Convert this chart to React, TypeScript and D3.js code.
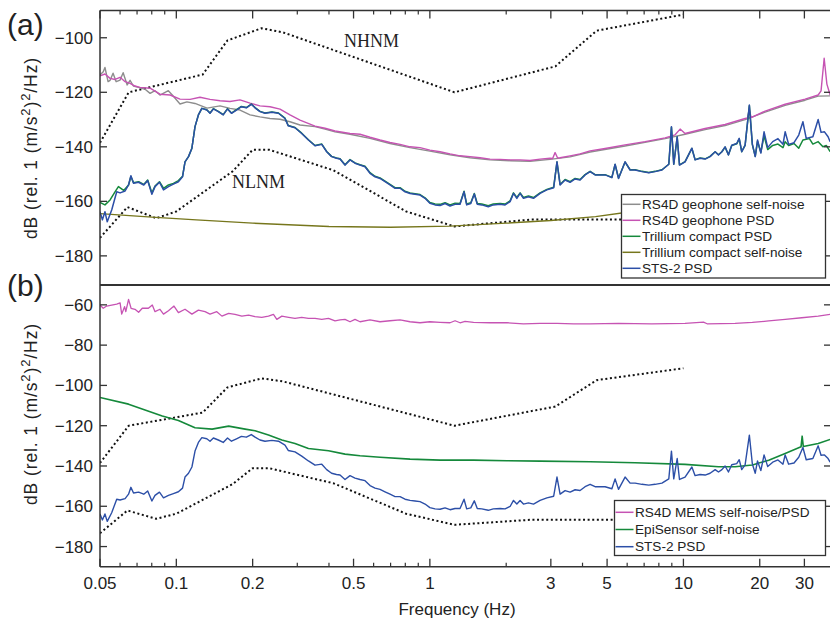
import React, { useRef, useEffect } from "react";
import * as d3 from "d3";

type Pt = [number, number];

// Peterson noise models (frequency Hz, dB)
const nhnm: Pt[] = [
  [0.05, -138.5], [0.0649, -120.0], [0.127, -113.5], [0.159, -101.0], [0.217, -96.5],
  [0.263, -98.0], [1.25, -120.0], [3.125, -110.5], [4.545, -97.4], [10, -91.5],
];
const nlnm: Pt[] = [
  [0.05, -173.4], [0.0641, -162.1], [0.0833, -166.2], [0.1, -163.7], [0.1667, -149.0],
  [0.2, -141.1], [0.2326, -141.1], [0.417, -148.6], [0.806, -163.7], [1.25, -169.2],
  [2.5, -166.7], [5.88, -166.7], [10, -168.0],
];

// panel (a)
const trilliumNoise: Pt[] = [
  [0.05, -164.5], [0.08, -165.8], [0.12, -166.8], [0.2, -168.0], [0.4, -169.2], [0.7, -169.5],
  [1.2, -169.1], [2.0, -168.0], [3.0, -167.0], [4.5, -165.6], [6.0, -164.0], [10, -161.5],
];
const geoNoise: Pt[] = [
  [0.05, -113.7], [0.0515, -112.5], [0.0523, -110.9], [0.0538, -116.1], [0.0548, -115.6],
  [0.0563, -113.0], [0.0579, -116.1], [0.06, -115.5], [0.0617, -112.8], [0.064, -117.3],
  [0.0657, -115.6], [0.0677, -117.7], [0.0709, -118.2], [0.0753, -118.9], [0.0788, -120.4],
  [0.0824, -119.4], [0.0862, -121.0], [0.093, -119.4], [0.0964, -121.0], [0.1034, -124.3],
  [0.1101, -123.5], [0.1185, -124.1], [0.1322, -125.8], [0.1487, -125.0], [0.1628, -125.9],
  [0.1783, -126.5], [0.1953, -128.3], [0.2138, -129.0], [0.2342, -129.6], [0.2564, -129.9],
  [0.2808, -130.8], [0.3075, -132.0], [0.3524, -132.6], [0.3859, -133.5], [0.4226, -134.5],
  [0.4842, -135.4], [0.5807, -136.9], [0.6964, -138.8], [0.8351, -140.3], [1.0, -141.6],
  [1.201, -142.9], [1.44, -144.0], [1.727, -144.8], [2.072, -145.1], [2.484, -145.3],
  [2.979, -144.6], [3.573, -143.7], [4.285, -141.9], [5.888, -139.7], [8.468, -137.0],
  [10.15, -135.4], [12.18, -133.7], [14.6, -132.2], [17.51, -130.0], [21.0, -127.3],
  [25.19, -124.8], [30.2, -122.9], [34.0, -121.4], [37.9, -121.3],
];
const geoPsd: Pt[] = [
  [0.05, -114.0], [0.0523, -113.3], [0.0548, -114.9], [0.0573, -115.3], [0.06, -114.5],
  [0.0628, -116.1], [0.0657, -116.7], [0.0687, -117.7], [0.0719, -118.2], [0.0788, -118.5],
  [0.0862, -120.7], [0.0945, -121.0], [0.1034, -122.5], [0.1133, -122.6], [0.124, -121.8],
  [0.1358, -122.6], [0.1487, -123.1], [0.1628, -123.4], [0.1783, -122.8], [0.1953, -124.0],
  [0.2138, -125.0], [0.2342, -125.3], [0.2564, -126.2], [0.2808, -128.3], [0.3075, -130.2],
  [0.3524, -132.4], [0.3859, -133.2], [0.4226, -134.2], [0.4842, -135.1], [0.5303, -135.4],
  [0.5807, -136.5], [0.6359, -137.5], [0.6964, -138.4], [0.7626, -139.1], [0.8351, -140.0],
  [0.9146, -140.3], [1.0, -141.2], [1.097, -141.8], [1.201, -142.6], [1.315, -143.3],
  [1.44, -143.6], [1.577, -144.0], [1.727, -144.5], [1.892, -144.6], [2.072, -144.8],
  [2.269, -144.8], [2.484, -145.0], [2.721, -144.5], [2.979, -144.2], [3.05, -144.3],
  [3.118, -142.1], [3.19, -144.1], [3.263, -144.0], [3.573, -143.3], [3.912, -142.6],
  [4.285, -141.5], [4.91, -140.6], [5.888, -139.3], [7.061, -138.1], [8.468, -136.7],
  [9.273, -135.6], [9.704, -133.5], [10.15, -135.1], [12.18, -133.3], [14.6, -131.8],
  [17.51, -129.6], [17.9, -129.4], [18.2, -126.5], [18.5, -129.3], [21.0, -126.9],
  [25.19, -124.4], [30.2, -122.5], [34.0, -121.0], [34.9, -119.5], [35.9, -107.5],
  [36.8, -117.0], [37.9, -121.0],
];
const sts2Psd: Pt[] = [
  [0.05, -163.8], [0.0511, -166.8], [0.0523, -163.8], [0.0534, -167.5], [0.0556, -163.2],
  [0.0582, -156.5], [0.06, -156.9], [0.0628, -156.2], [0.0648, -154.0], [0.0662, -150.6],
  [0.0678, -153.4], [0.071, -153.0], [0.0744, -154.0], [0.0771, -152.4], [0.0801, -157.4],
  [0.0824, -154.6], [0.0858, -153.0], [0.089, -155.8], [0.0931, -154.6], [0.0974, -153.7],
  [0.1019, -152.8], [0.1058, -151.0], [0.1082, -145.5], [0.1117, -143.6], [0.1152, -140.5],
  [0.1185, -132.6], [0.1222, -128.3], [0.1261, -125.9], [0.1319, -126.5], [0.1358, -127.7],
  [0.14, -126.1], [0.1464, -127.1], [0.1531, -128.3], [0.1592, -126.1], [0.165, -127.7],
  [0.1727, -126.5], [0.1806, -125.3], [0.1889, -125.7], [0.1976, -124.4], [0.2044, -125.7],
  [0.2138, -127.1], [0.2238, -127.7], [0.2382, -127.3], [0.2529, -127.7], [0.2683, -129.6],
  [0.2763, -132.3], [0.2938, -133.0], [0.3123, -135.1], [0.3319, -137.5], [0.3524, -139.6],
  [0.3747, -139.1], [0.3917, -141.8], [0.4097, -143.6], [0.4283, -144.2], [0.4422, -144.5],
  [0.4627, -146.7], [0.4842, -144.8], [0.5067, -146.0], [0.5303, -146.7], [0.5549, -147.3],
  [0.5807, -149.7], [0.6077, -151.0], [0.6359, -151.6], [0.6655, -152.8], [0.6964, -154.0],
  [0.7288, -155.2], [0.7626, -155.2], [0.798, -156.5], [0.8351, -157.1], [0.874, -157.4],
  [0.9146, -157.7], [0.9571, -158.9], [1.0, -160.7], [1.048, -161.3], [1.097, -161.5],
  [1.148, -160.8], [1.201, -161.7], [1.257, -161.1], [1.315, -161.1], [1.364, -156.5],
  [1.397, -161.3], [1.45, -160.8], [1.497, -157.3], [1.538, -161.1], [1.602, -161.3],
  [1.7, -162.0], [1.779, -161.3], [1.892, -161.1], [1.98, -161.3], [2.072, -160.1],
  [2.137, -157.1], [2.203, -158.9], [2.269, -157.1], [2.339, -158.9], [2.448, -158.3],
  [2.563, -158.9], [2.721, -157.1], [2.894, -155.8], [3.078, -155.0], [3.172, -145.5],
  [3.263, -154.0], [3.414, -152.2], [3.573, -153.0], [3.739, -151.8], [3.912, -152.2],
  [4.094, -150.3], [4.285, -149.1], [4.484, -150.3], [4.91, -150.3], [5.222, -151.3],
  [5.377, -146.4], [5.546, -151.6], [5.888, -145.5], [6.162, -148.5], [6.448, -148.5],
  [6.861, -149.1], [7.302, -149.5], [7.732, -149.1], [8.228, -148.5], [8.757, -146.4],
  [8.97, -132.6], [9.16, -146.4], [9.45, -136.3], [9.65, -146.7], [10.15, -145.5],
  [10.8, -140.5], [11.12, -144.8], [11.64, -144.2], [12.18, -144.5], [12.74, -143.6],
  [13.34, -141.8], [13.75, -143.0], [14.18, -141.8], [14.6, -140.0], [15.05, -143.0],
  [15.51, -139.4], [16.23, -138.8], [16.6, -136.9], [16.98, -141.8], [17.51, -139.4],
  [18.2, -124.7], [18.7, -139.0], [19.2, -143.6], [19.6, -137.5], [20.2, -142.3],
  [20.8, -134.5], [21.5, -140.3], [22.5, -138.1], [23.6, -137.0], [24.7, -139.1],
  [25.19, -134.5], [26.0, -139.1], [27.3, -138.5], [28.5, -135.7], [29.6, -130.8],
  [30.5, -136.9], [32.4, -136.3], [34.0, -130.0], [34.9, -134.7], [36.0, -134.5],
  [37.2, -136.3], [37.9, -138.1],
];
const trilliumPsd: Pt[] = [
  [0.05, -160.4], [0.0523, -161.3], [0.0548, -159.5], [0.0573, -156.5], [0.0591, -154.6],
  [0.062, -156.0], [0.0648, -154.0], [0.0662, -150.9], [0.0678, -153.2], [0.071, -152.8],
  [0.0744, -153.8], [0.0771, -152.2], [0.0801, -156.9], [0.0824, -154.4], [0.0858, -152.8],
  [0.089, -155.2], [0.0931, -154.0], [0.0974, -153.4], [0.1019, -152.4], [0.1058, -150.8],
  [0.1082, -145.5], [0.1117, -143.6], [0.1152, -140.5], [0.1185, -132.6], [0.1222, -128.3],
  [0.1261, -125.9], [0.1319, -126.4], [0.1358, -127.6], [0.14, -126.0], [0.1464, -127.0],
  [0.1531, -128.2], [0.1592, -126.0], [0.165, -127.6], [0.1727, -126.4], [0.1806, -125.2],
  [0.1889, -125.6], [0.1976, -124.3], [0.2044, -125.6], [0.2138, -127.0], [0.2238, -127.6],
  [0.2382, -127.2], [0.2529, -127.6], [0.2683, -129.5], [0.2763, -132.2], [0.2938, -132.9],
  [0.3123, -135.0], [0.3319, -137.4], [0.3524, -139.5], [0.3747, -139.0], [0.3917, -141.7],
  [0.4097, -143.5], [0.4283, -144.1], [0.4422, -144.4], [0.4627, -146.6], [0.4842, -144.7],
  [0.5067, -145.9], [0.5303, -146.6], [0.5549, -147.1], [0.5807, -149.5], [0.6077, -150.8],
  [0.6359, -151.4], [0.6655, -152.6], [0.6964, -153.8], [0.7288, -155.0], [0.7626, -155.0],
  [0.798, -156.3], [0.8351, -156.9], [0.874, -157.2], [0.9146, -157.5], [0.9571, -158.7],
  [1.0, -160.4], [1.048, -161.0], [1.097, -161.1], [1.148, -160.5], [1.201, -161.3],
  [1.257, -160.7], [1.315, -160.8], [1.364, -156.3], [1.397, -161.0], [1.45, -160.5],
  [1.497, -157.1], [1.538, -160.8], [1.602, -161.0], [1.7, -161.6], [1.779, -161.0],
  [1.892, -160.8], [1.98, -161.0], [2.072, -159.8], [2.137, -156.9], [2.203, -158.6],
  [2.269, -156.9], [2.339, -158.6], [2.448, -158.0], [2.563, -158.6], [2.721, -156.9],
  [2.894, -155.6], [3.078, -154.8], [3.172, -145.6], [3.263, -153.8], [3.414, -152.0],
  [3.573, -152.8], [3.739, -151.6], [3.912, -152.0], [4.094, -150.2], [4.285, -149.0],
  [4.484, -150.2], [4.91, -150.2], [5.222, -151.2], [5.377, -146.5], [5.546, -151.5],
  [5.888, -145.6], [6.162, -148.4], [6.448, -148.4], [6.861, -149.0], [7.302, -149.4],
  [7.732, -149.0], [8.228, -148.4], [8.757, -146.4], [8.97, -132.8], [9.16, -146.4],
  [9.45, -136.5], [9.65, -146.6], [10.15, -145.4], [10.8, -140.6], [11.12, -144.7],
  [11.64, -144.1], [12.18, -144.4], [12.74, -143.5], [13.34, -141.8], [13.75, -142.9],
  [14.18, -141.8], [14.6, -140.1], [15.05, -142.9], [15.51, -139.5], [16.23, -138.9],
  [16.6, -137.1], [16.98, -141.8], [17.51, -139.5], [18.2, -124.9], [18.7, -139.2],
  [19.2, -143.5], [19.6, -138.0], [20.2, -142.0], [20.8, -136.0], [21.5, -141.0],
  [22.5, -139.5], [23.6, -139.0], [24.7, -140.3], [25.19, -138.1], [26.0, -139.5],
  [27.3, -138.8], [28.5, -140.5], [29.6, -137.5], [31.4, -137.0], [32.4, -139.0],
  [34.0, -138.1], [35.5, -140.0], [36.6, -139.5], [37.9, -141.8],
];

// panel (b)
const memsPsd: Pt[] = [
  [0.05, -60.1], [0.0515, -61.7], [0.0531, -60.6], [0.0556, -60.1], [0.0582, -59.6],
  [0.06, -59.0], [0.0609, -64.6], [0.0625, -60.9], [0.0632, -63.4], [0.0648, -57.3],
  [0.0663, -61.7], [0.0687, -62.2], [0.071, -63.7], [0.0734, -61.7], [0.0776, -61.7],
  [0.0804, -60.1], [0.0824, -63.4], [0.0862, -62.2], [0.089, -64.6], [0.0931, -62.9],
  [0.0979, -60.6], [0.1019, -63.9], [0.1082, -62.2], [0.1152, -64.6], [0.1222, -62.6],
  [0.1298, -63.4], [0.1358, -64.6], [0.1444, -63.4], [0.1513, -65.6], [0.1608, -64.2],
  [0.1704, -64.7], [0.1813, -65.6], [0.1928, -65.1], [0.2044, -65.9], [0.2173, -66.2],
  [0.2309, -65.6], [0.2416, -64.7], [0.2491, -67.2], [0.2607, -65.6], [0.2772, -66.2],
  [0.2938, -66.7], [0.3123, -66.2], [0.3319, -66.7], [0.3524, -66.7], [0.3747, -67.2],
  [0.3983, -66.7], [0.4226, -68.0], [0.4422, -67.5], [0.4627, -67.2], [0.4842, -68.4],
  [0.5067, -67.2], [0.5303, -68.4], [0.5807, -67.5], [0.6359, -68.4], [0.6964, -67.9],
  [0.7626, -67.5], [0.8351, -68.4], [0.9146, -68.9], [1.0, -68.4], [1.097, -68.7],
  [1.201, -68.9], [1.257, -67.9], [1.315, -68.9], [1.376, -68.2], [1.487, -68.7],
  [1.727, -68.9], [2.014, -68.9], [2.339, -69.4], [2.721, -69.2], [3.172, -69.2],
  [3.694, -69.4], [4.285, -69.4], [5.546, -69.2], [7.5, -69.4], [10.15, -69.2],
  [12.0, -68.6], [12.4, -69.4], [15.99, -69.2], [18.7, -68.7], [21.7, -68.0],
  [25.19, -67.2], [29.3, -66.4], [34.0, -65.6], [37.9, -64.7],
];
const episensorNoise: Pt[] = [
  [0.05, -106.0], [0.0648, -109.3], [0.088, -115.2], [0.1019, -117.4], [0.1185, -121.0],
  [0.1384, -121.7], [0.1608, -120.2], [0.1868, -121.7], [0.2044, -122.5], [0.2309, -124.6],
  [0.2607, -127.1], [0.2938, -128.8], [0.3319, -131.3], [0.3983, -132.4], [0.4627, -134.1],
  [0.5303, -134.9], [0.6359, -135.7], [0.8351, -136.6], [1.097, -137.1], [1.487, -137.1],
  [2.014, -137.4], [2.721, -137.6], [4.285, -137.9], [6.448, -138.4], [10.15, -139.2],
  [13.75, -140.4], [15.99, -140.4], [18.7, -139.5], [21.7, -137.1], [25.19, -133.8],
  [29.1, -130.5], [29.4, -125.2], [29.7, -130.3], [34.0, -128.8], [37.9, -126.8],
];

const xMajor = [0.05, 0.1, 0.2, 0.5, 1, 3, 5, 10, 20, 30];
const xMinor = [0.06, 0.07, 0.08, 0.09, 0.3, 0.4, 0.6, 0.7, 0.8, 0.9, 2, 4, 6, 7, 8, 9];
const yTicksA = [-180, -160, -140, -120, -100];
const yTicksB = [-180, -160, -140, -120, -100, -80, -60];

const C = {
  gray: "#8d8d8d", pink: "#c653b3", green: "#15893b", olive: "#76761c", blue: "#2c4fa7", dot: "#111",
};
const legendA = [
  { name: "RS4D geophone self-noise", color: C.gray },
  { name: "RS4D geophone PSD", color: C.pink },
  { name: "Trillium compact PSD", color: C.green },
  { name: "Trillium compact self-noise", color: C.olive },
  { name: "STS-2 PSD", color: C.blue },
];
const legendB = [
  { name: "RS4D MEMS self-noise/PSD", color: C.pink },
  { name: "EpiSensor self-noise", color: C.green },
  { name: "STS-2 PSD", color: C.blue },
];

const SANS = "'Liberation Sans', Arial, Helvetica, sans-serif";
const SERIF = "'Liberation Serif', 'Times New Roman', serif";

export default function App() {
  const ref = useRef<SVGSVGElement>(null);

  useEffect(() => {
    const svg = d3.select(ref.current);
    svg.selectAll("*").remove();
    const L = 100, R = 831;
    const x = d3.scaleLog().domain([0.05, 38.2]).range([L, R]);

    const panels = [
      {
        id: "a", y: d3.scaleLinear().domain([-190.5, -90]).range([284.5, 10.5]),
        top: 10.5, bottom: 284.5, ticks: yTicksA, tag: "(a)", tagY: 35, labelY: 148,
        series: [
          { d: nhnm, c: C.dot, w: 2, dash: "2 2.6" },
          { d: nlnm, c: C.dot, w: 2, dash: "2 2.6" },
          { d: trilliumNoise, c: C.olive, w: 1.4 },
          { d: geoNoise, c: C.gray, w: 1.4 },
          { d: geoPsd, c: C.pink, w: 1.4 },
          { d: trilliumPsd, c: C.green, w: 1.5 },
          { d: sts2Psd, c: C.blue, w: 1.5 },
        ],
        legend: legendA, box: { x: 621.5, y: 194.5, w: 204, h: 83.5, row0: 204.3, step: 16 },
        notes: [{ t: "NHNM", x: 344, y: 46.5 }, { t: "NLNM", x: 232, y: 188 }],
      },
      {
        id: "b", y: d3.scaleLinear().domain([-190, -50]).range([566.7, 284.7]),
        top: 284.7, bottom: 566.7, ticks: yTicksB, tag: "(b)", tagY: 296, labelY: 414,
        series: [
          { d: nhnm, c: C.dot, w: 2, dash: "2 2.6" },
          { d: nlnm, c: C.dot, w: 2, dash: "2 2.6" },
          { d: memsPsd, c: C.pink, w: 1.3 },
          { d: episensorNoise, c: C.green, w: 1.6 },
          { d: sts2Psd, c: C.blue, w: 1.4 },
        ],
        legend: legendB, box: { x: 614.5, y: 500.5, w: 211, h: 55, row0: 512.3, step: 17.2 },
        notes: [] as { t: string; x: number; y: number }[],
      },
    ];

    const defs = svg.append("defs");
    panels.forEach((p) => {
      defs.append("clipPath").attr("id", "clip-" + p.id)
        .append("rect").attr("x", L).attr("y", p.top).attr("width", R - L).attr("height", p.bottom - p.top);

      const line = d3.line<Pt>().x((d) => x(d[0])).y((d) => p.y(d[1]));
      const g = svg.append("g").attr("clip-path", `url(#clip-${p.id})`);
      p.series.forEach((s: any) => {
        g.append("path").attr("d", line(s.d)).attr("fill", "none")
          .attr("stroke", s.c).attr("stroke-width", s.w)
          .attr("stroke-dasharray", s.dash || null)
          .attr("stroke-linejoin", "round");
      });

      p.notes.forEach((n) => {
        svg.append("text").attr("x", n.x).attr("y", n.y).text(n.t)
          .style("font-family", SERIF).style("font-size", "18px").style("fill", "#222");
      });

      // y ticks, both sides
      p.ticks.forEach((v) => {
        const yy = p.y(v);
        svg.append("line").attr("x1", L).attr("x2", L + 7).attr("y1", yy).attr("y2", yy)
          .attr("stroke", "#333").attr("stroke-width", 1.3);
        svg.append("line").attr("x1", R - 7).attr("x2", R).attr("y1", yy).attr("y2", yy)
          .attr("stroke", "#333").attr("stroke-width", 1.3);
        svg.append("text").attr("x", 93).attr("y", yy).attr("dy", "0.35em")
          .attr("text-anchor", "end").text("\u2212" + Math.abs(v))
          .style("font-family", SANS).style("font-size", "17px").style("fill", "#222");
      });

      // legend
      const b = p.box;
      svg.append("rect").attr("x", b.x).attr("y", b.y).attr("width", b.w).attr("height", b.h)
        .attr("fill", "#fff").attr("stroke", "#333").attr("stroke-width", 1.3);
      p.legend.forEach((e, i) => {
        const yy = b.row0 + i * b.step;
        svg.append("line").attr("x1", b.x + 1).attr("x2", b.x + 19).attr("y1", yy).attr("y2", yy)
          .attr("stroke", e.color).attr("stroke-width", 1.5);
        svg.append("text").attr("x", b.x + 20.5).attr("y", yy).attr("dy", "0.35em").text(e.name)
          .style("font-family", SANS).style("font-size", "13.6px").style("fill", "#222");
      });

      // panel tag
      svg.append("text").attr("x", 7).attr("y", p.tagY).text(p.tag)
        .style("font-family", SANS).style("font-size", "30px").style("fill", "#222");

      // y label
      const t = svg.append("text").attr("transform", `translate(37,${p.labelY}) rotate(-90)`)
        .attr("text-anchor", "middle")
        .style("font-family", SANS).style("font-size", "17.5px").style("letter-spacing", "0.9px")
        .style("fill", "#222");
      t.append("tspan").text("dB (rel. 1 (m/s");
      t.append("tspan").attr("dy", -7.5).style("font-size", "13px").text("2");
      t.append("tspan").attr("dy", 7.5).text(")");
      t.append("tspan").attr("dy", -7.5).style("font-size", "13px").text("2");
      t.append("tspan").attr("dy", 7.5).text("/Hz)");
    });

    // x ticks: top of (a) and bottom of (b)
    const topY = 10.5, botY = 566.7;
    xMajor.forEach((f) => {
      svg.append("line").attr("x1", x(f)).attr("x2", x(f)).attr("y1", topY).attr("y2", topY + 8)
        .attr("stroke", "#333").attr("stroke-width", 1.3);
      svg.append("line").attr("x1", x(f)).attr("x2", x(f)).attr("y1", botY - 8).attr("y2", botY)
        .attr("stroke", "#333").attr("stroke-width", 1.3);
      svg.append("text").attr("x", x(f)).attr("y", 589).attr("text-anchor", "middle").text(String(f))
        .style("font-family", SANS).style("font-size", "17px").style("fill", "#222");
    });
    xMinor.forEach((f) => {
      svg.append("line").attr("x1", x(f)).attr("x2", x(f)).attr("y1", topY).attr("y2", topY + 4)
        .attr("stroke", "#333").attr("stroke-width", 1.2);
      svg.append("line").attr("x1", x(f)).attr("x2", x(f)).attr("y1", botY - 4).attr("y2", botY)
        .attr("stroke", "#333").attr("stroke-width", 1.2);
    });

    // frame
    const frame = svg.append("g").attr("stroke", "#333").attr("fill", "none");
    frame.append("line").attr("x1", L).attr("x2", L).attr("y1", topY).attr("y2", botY).attr("stroke-width", 1.5);
    frame.append("line").attr("x1", L).attr("x2", 830).attr("y1", topY).attr("y2", topY).attr("stroke-width", 1.5);
    frame.append("line").attr("x1", L).attr("x2", 830).attr("y1", 285).attr("y2", 285).attr("stroke-width", 2.2);
    frame.append("line").attr("x1", L).attr("x2", 830).attr("y1", botY).attr("y2", botY).attr("stroke-width", 1.5);

    svg.append("text").attr("x", 457).attr("y", 615).attr("text-anchor", "middle").text("Frequency (Hz)")
      .style("font-family", SANS).style("font-size", "17px").style("fill", "#222");
  }, []);

  return (
    <div style={{ position: "absolute", left: 0, top: 0 }}>
      <svg ref={ref} width={830} height={626} style={{ display: "block", background: "#fff" }} />
    </div>
  );
}
